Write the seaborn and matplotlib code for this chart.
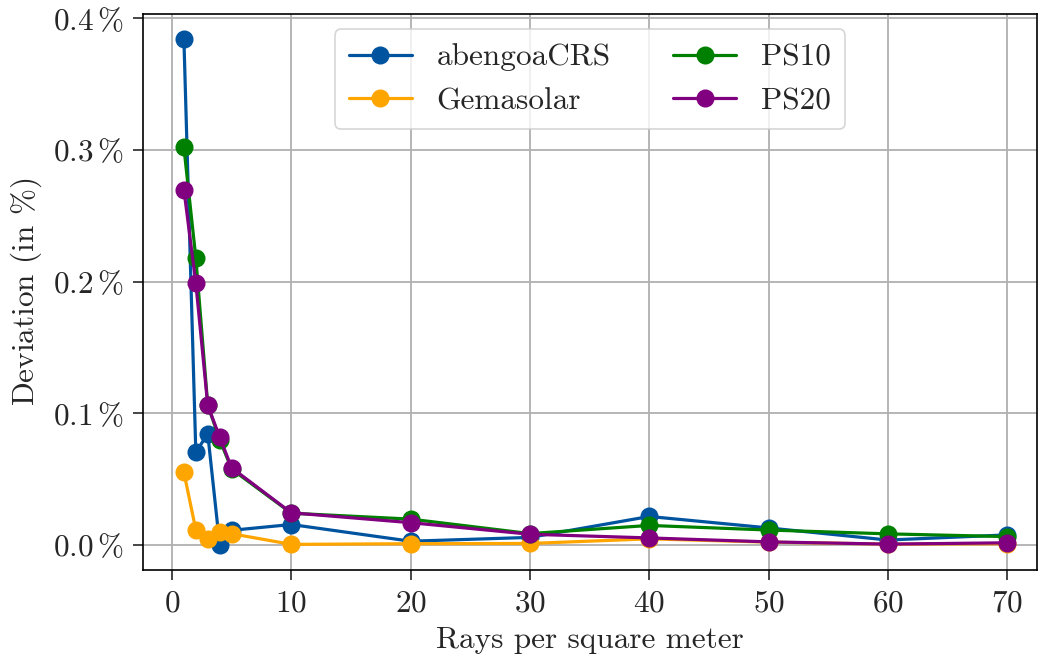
import matplotlib
matplotlib.use("Agg")
import matplotlib.pyplot as plt
import seaborn as sns
import pandas as pd
from matplotlib.ticker import FuncFormatter, MultipleLocator

rays = [1, 2, 3, 4, 5, 10, 20, 30, 40, 50, 60, 70]
abengoa = [0.3845, 0.0704, 0.0843, 0.0, 0.0110, 0.0154, 0.0027, 0.0056, 0.0215, 0.0128, 0.0036, 0.0075]
gemasolar = [0.0550, 0.0114, 0.0046, 0.0096, 0.0084, 0.0003, 0.0008, 0.0010, 0.0045, 0.0020, 0.0005, 0.0008]
ps10 = [0.3021, 0.2181, 0.1060, 0.0800, 0.0575, 0.0240, 0.0195, 0.0085, 0.0147, 0.0112, 0.0083, 0.0062]
ps20 = [0.2700, 0.1988, 0.1060, 0.0818, 0.0585, 0.0243, 0.0168, 0.0080, 0.0052, 0.0022, 0.0005, 0.0015]

names = ["abengoaCRS", "Gemasolar", "PS10", "PS20"]
series = [abengoa, gemasolar, ps10, ps20]
colors = ["#00549F", "#FFA500", "#008000", "#800080"]

rows = []
for n, vals in zip(names, series):
    for x, v in zip(rays, vals):
        rows.append({"rays": x, "dev": v, "plant": n})
df = pd.DataFrame(rows)

FS = 22.5
sns.set_style("ticks")
plt.rcParams.update({
    "font.family": "serif",
    "font.serif": ["cmr10"],
    "mathtext.fontset": "cm",
    "axes.formatter.use_mathtext": True,
    "font.size": FS,
})

fig = plt.figure(figsize=(10.39, 6.59), dpi=100)
ax = fig.add_axes([0.1376, 0.135, 0.8605, 0.844])

sns.lineplot(data=df, x="rays", y="dev", hue="plant", hue_order=names,
             palette=colors, marker="o", markersize=13, markeredgewidth=0,
             linewidth=2.3, ax=ax, sort=False, legend=True)

ax.set_xlim(-2.43, 72.5)
ax.set_ylim(-0.0192, 0.4035)
ax.xaxis.set_major_locator(MultipleLocator(10))
ax.yaxis.set_major_locator(MultipleLocator(0.1))
ax.yaxis.set_major_formatter(FuncFormatter(lambda v, p: r"$%.1f\,\%%$" % v))
ax.xaxis.set_major_formatter(FuncFormatter(lambda v, p: r"$%d$" % round(v)))
ax.grid(True, color="#b0b0b0", linewidth=1.3)
ax.set_axisbelow(True)
for s in ax.spines.values():
    s.set_linewidth(1.2)
    s.set_color("black")
ax.tick_params(length=7, width=1.2, labelsize=FS, direction="out", pad=7)

ax.set_xlabel("Rays per square meter", fontsize=FS, labelpad=6)
ax.set_ylabel(r"Deviation (in $\%$)", fontsize=FS, labelpad=6)

leg = ax.legend(loc="upper center", ncol=2, fontsize=FS, frameon=True,
                handlelength=2.0, columnspacing=2.0, borderpad=0.45,
                labelspacing=0.5)
leg.get_frame().set_edgecolor("#cccccc")
leg.get_frame().set_alpha(0.8)
leg.get_frame().set_linewidth(1.2)

fig.savefig("out.png", dpi=100)
